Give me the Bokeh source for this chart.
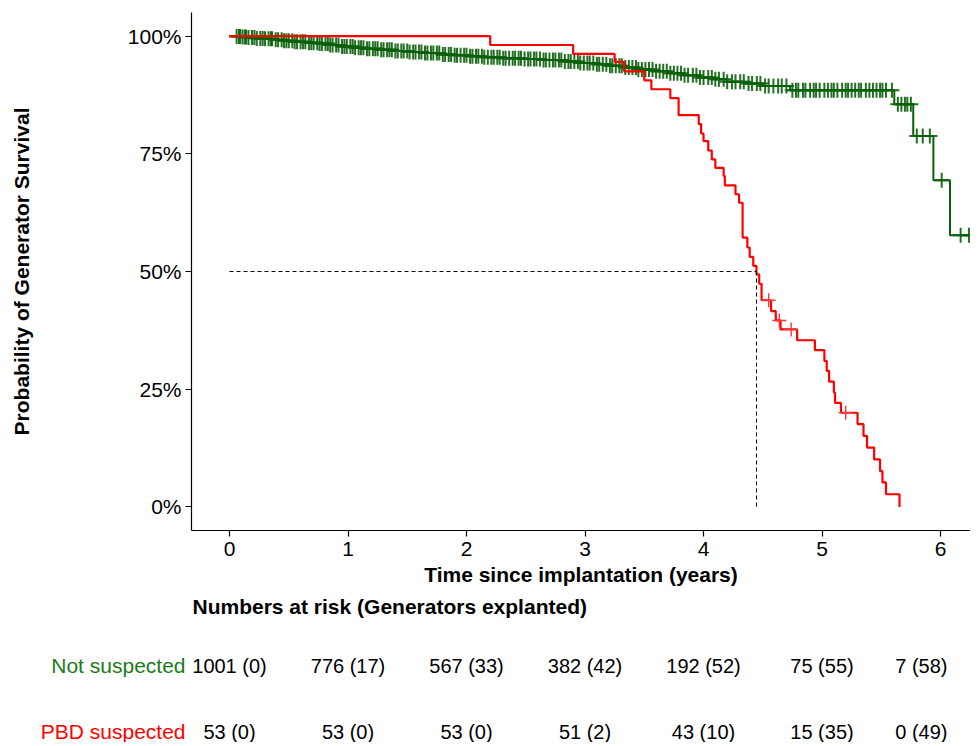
import numpy as np
from bokeh.plotting import figure
from bokeh.models import Range1d, FixedTicker, NumeralTickFormatter
from bokeh.layouts import column
from bokeh.embed import file_html
from bokeh.resources import INLINE
from bokeh.core.properties import value

# ---------------- data ----------------
# PBD suspected (red): Kaplan-Meier step times (years) and survival after each step
red_t = [0.0, 2.20, 2.90, 3.25, 3.33, 3.50, 3.56, 3.72, 3.79, 3.96, 3.98, 4.00, 4.04,
         4.07, 4.10, 4.17, 4.18, 4.27, 4.30, 4.33, 4.37, 4.39, 4.42, 4.447, 4.47, 4.49,
         4.57, 4.61, 4.65, 4.79, 4.94, 5.02, 5.04, 5.06, 5.10, 5.11, 5.16, 5.30, 5.35,
         5.38, 5.44, 5.49, 5.51, 5.54, 5.654]
red_s = [1.0, 0.981, 0.962, 0.945, 0.925, 0.906, 0.887, 0.868, 0.832, 0.813, 0.793,
         0.777, 0.757, 0.738, 0.720, 0.703, 0.683, 0.664, 0.646, 0.572, 0.551, 0.531,
         0.512, 0.494, 0.474, 0.439, 0.416, 0.396, 0.377, 0.354, 0.333, 0.310, 0.289,
         0.266, 0.243, 0.221, 0.200, 0.176, 0.151, 0.126, 0.101, 0.076, 0.052, 0.027, 0.0]
red_cens_t = [4.55, 4.64, 4.74, 5.20]

# Not suspected (green): step times and survival after each step
green_t = [0.0, 0.05, 0.10, 0.16, 0.22, 0.30, 0.38, 0.45, 0.55, 0.65, 0.75, 0.85, 0.95,
           1.05, 1.15, 1.28, 1.40, 1.52, 1.65, 1.78, 1.90, 2.02, 2.15, 2.30, 2.48, 2.65,
           2.82, 2.95, 3.08, 3.20, 3.32, 3.45, 3.58, 3.70, 3.83, 3.95, 4.08, 4.20, 4.35,
           4.50, 4.73, 5.61, 5.77, 5.94, 6.08]
green_s = [1.0, 0.999, 0.998, 0.997, 0.995, 0.994, 0.992, 0.990, 0.988, 0.986, 0.984,
           0.981, 0.978, 0.975, 0.973, 0.971, 0.968, 0.966, 0.964, 0.961, 0.959, 0.957,
           0.955, 0.953, 0.951, 0.949, 0.946, 0.943, 0.940, 0.937, 0.933, 0.929, 0.925,
           0.921, 0.917, 0.912, 0.908, 0.903, 0.899, 0.894, 0.885, 0.855, 0.788, 0.694, 0.577]
green_cens_t = [
    0.06, 0.08, 0.09, 0.11, 0.13, 0.14, 0.16, 0.19, 0.21, 0.23, 0.26, 0.28, 0.30, 0.33,
    0.35, 0.36, 0.39, 0.41, 0.44, 0.46, 0.48, 0.50, 0.53, 0.55, 0.57, 0.60, 0.62, 0.64,
    0.67, 0.69, 0.71, 0.74, 0.76, 0.78, 0.81, 0.83, 0.85, 0.87, 0.90, 0.92, 0.95, 0.97,
    0.99, 1.02, 1.04, 1.06, 1.09, 1.11, 1.13, 1.16, 1.18, 1.21, 1.23, 1.25, 1.28, 1.30,
    1.33, 1.35, 1.37, 1.40, 1.42, 1.45, 1.47, 1.50, 1.52, 1.55, 1.57, 1.60, 1.62, 1.65,
    1.67, 1.70, 1.72, 1.75, 1.77, 1.80, 1.82, 1.85, 1.87, 1.90, 1.92, 1.95, 1.98, 2.00,
    2.03, 2.05, 2.08, 2.10, 2.13, 2.15, 2.18, 2.21, 2.23, 2.26, 2.28, 2.31, 2.33, 2.36,
    2.39, 2.41, 2.44, 2.46, 2.49, 2.52, 2.54, 2.57, 2.59, 2.62, 2.65, 2.67, 2.70, 2.73,
    2.75, 2.78, 2.80, 2.83, 2.86, 2.88, 2.91, 2.94, 2.96, 2.99, 3.02, 3.04, 3.07, 3.10,
    3.12, 3.15, 3.18, 3.21, 3.23, 3.26, 3.29, 3.31, 3.34, 3.37, 3.40, 3.43, 3.45, 3.48,
    3.51, 3.54, 3.57, 3.60, 3.63, 3.66, 3.69, 3.72, 3.75, 3.78, 3.81, 3.84, 3.87, 3.91,
    3.94, 3.97, 4.00, 4.04, 4.07, 4.10, 4.13, 4.17, 4.20, 4.24, 4.27, 4.31, 4.34, 4.38,
    4.41, 4.45, 4.48, 4.52, 4.55, 4.59, 4.63, 4.66, 4.70, 4.75, 4.78, 4.80, 4.84, 4.86,
    4.90, 4.93, 4.95, 4.98, 5.02, 5.05, 5.08, 5.10, 5.13, 5.17, 5.20, 5.22, 5.25, 5.28,
    5.31, 5.33, 5.37, 5.40, 5.43, 5.46, 5.49, 5.51, 5.54, 5.59, 5.64, 5.67, 5.70, 5.72,
    5.75, 5.80, 5.85, 5.91, 6.01, 6.17, 6.24, 6.27]

# Risk table
years = [0, 1, 2, 3, 4, 5, 6]
ns_risk = [1001, 776, 567, 382, 192, 75, 7]
ns_expl = [0, 17, 33, 42, 52, 55, 58]
pbd_risk = [53, 53, 53, 51, 43, 15, 0]
pbd_expl = [0, 0, 0, 2, 10, 35, 49]
y_ticks = [0, 0.25, 0.5, 0.75, 1.0]
group_names = ["Not suspected", "PBD suspected"]

# ---------------- styling ----------------
GREEN = "#0a600a"
GREEN_TXT = "#1b7a1b"
RED = "#ff0000"
FONT = "Liberation Sans"
PX_PER_YEAR = 118.5
X0_PX = 229          # page pixel of t = 0
PLOT_LEFT = 191      # page pixel of the plot frame's left edge
PAGE_W = 970


def surv_at(times, surv, t):
    idx = np.searchsorted(np.asarray(times), np.asarray(t), side="right") - 1
    return np.asarray(surv)[idx]


x_end = (PAGE_W - X0_PX) / PX_PER_YEAR
p = figure(frame_width=PAGE_W - PLOT_LEFT, frame_height=518,
           x_range=Range1d((PLOT_LEFT - X0_PX) / PX_PER_YEAR, x_end),
           y_range=Range1d(-0.05, 1.05),
           min_border_left=PLOT_LEFT, min_border_right=0, min_border_top=12,
           min_border_bottom=62, output_backend="svg", toolbar_location=None)
p.frame_align = False
p.outline_line_color = None
p.grid.visible = False
p.background_fill_color = "white"

# green curve
g_end = max(green_cens_t)
p.step(x=green_t + [g_end], y=green_s + [green_s[-1]], mode="after",
       line_color=GREEN, line_width=2)
p.scatter(x=green_cens_t, y=surv_at(green_t, green_s, green_cens_t), marker="cross",
          size=15, line_color=GREEN, line_width=2, line_alpha=0.9)

# red curve
p.step(x=red_t, y=red_s, mode="after", line_color=RED, line_width=2.2)
p.scatter(x=red_cens_t, y=surv_at(red_t, red_s, red_cens_t), marker="cross",
          size=14, line_color="#f03c3c", line_width=1.4)

# median survival (red)
t_med = red_t[int(np.argmax(np.asarray(red_s) <= 0.5))]
p.line(x=[0, t_med], y=[0.5, 0.5], line_color="black", line_width=1, line_dash="4 3")
p.line(x=[t_med, t_med], y=[0.5, 0], line_color="black", line_width=1, line_dash="4 3")

# axes
p.xaxis.ticker = FixedTicker(ticks=years)
p.yaxis.ticker = FixedTicker(ticks=y_ticks)
p.yaxis.formatter = NumeralTickFormatter(format="0%")
for ax in (p.xaxis, p.yaxis):
    ax.axis_line_color = "black"
    ax.axis_line_width = 1.2
    ax.major_tick_line_color = "black"
    ax.major_tick_line_width = 1.2
    ax.major_tick_out = 6
    ax.major_tick_in = 0
    ax.minor_tick_line_color = None
    ax.major_label_text_font = FONT
    ax.major_label_text_font_size = "21px"
    ax.major_label_text_color = "black"
    ax.axis_label_text_font = FONT
    ax.axis_label_text_font_size = "21px"
    ax.axis_label_text_font_style = "bold"
    ax.axis_label_text_color = "black"
p.xaxis.axis_label = "Time since implantation (years)"
p.yaxis.axis_label = "Probability of Generator Survival"
p.xaxis.major_label_standoff = 5
p.yaxis.major_label_standoff = 4
p.xaxis.axis_label_standoff = 4
p.yaxis.axis_label_standoff = 92

# ---------------- risk table (full-width frame, not aligned to the plot frame) ----------------
t = figure(frame_width=PAGE_W, frame_height=150,
           x_range=Range1d(-X0_PX / PX_PER_YEAR, x_end), y_range=Range1d(150, 0),
           min_border_left=0, min_border_right=0, min_border_top=0, min_border_bottom=0,
           output_backend="svg", toolbar_location=None)
t.frame_align = False
t.outline_line_color = None
t.grid.visible = False
t.axis.visible = False

row_y = {"title": 14, group_names[0]: 73, group_names[1]: 139}

t.text(x=[0], y=[row_y["title"]], text=["Numbers at risk (Generators explanted)"],
       x_offset=-37, text_align="left", text_baseline="middle",
       text_font=value(FONT), text_font_size="21px", text_font_style="bold",
       text_color="black")

for name, risk, expl, col in ((group_names[0], ns_risk, ns_expl, GREEN_TXT),
                              (group_names[1], pbd_risk, pbd_expl, RED)):
    labels = [f"{r} ({e})" for r, e in zip(risk, expl)]
    yy = row_y[name]
    t.text(x=years[:-1], y=[yy] * (len(years) - 1), text=labels[:-1],
           text_align="center", text_baseline="middle",
           text_font=value(FONT), text_font_size="20px", text_color="black")
    t.text(x=years[-1:], y=[yy], text=labels[-1:], x_offset=7,
           text_align="right", text_baseline="middle",
           text_font=value(FONT), text_font_size="20px", text_color="black")
    t.text(x=[0], y=[yy], text=[name], x_offset=-44,
           text_align="right", text_baseline="middle",
           text_font=value(FONT), text_font_size="21px", text_color=col)

layout = column(p, t, spacing=0)
open("out.html", "w").write(file_html(layout, INLINE))
